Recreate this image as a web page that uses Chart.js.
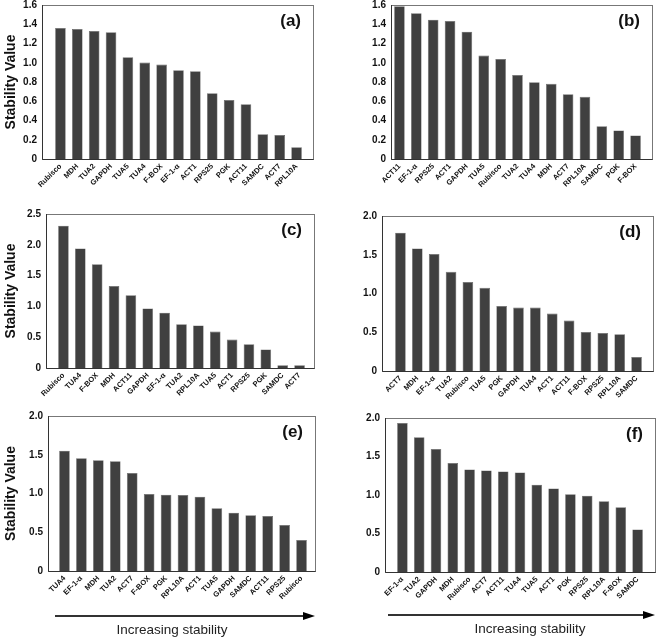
<!DOCTYPE html>
<html>
<head>
<meta charset="utf-8">
<script src="https://cdn.jsdelivr.net/npm/chart.js@4.4.1/dist/chart.umd.min.js"></script>
<style>
  body { margin: 0; background: #fff; }
  #wrap { position: relative; width: 660px; height: 640px; }
  canvas { position: absolute; }
</style>
</head>
<body>
<div id="wrap">
  <canvas id="chartA" width="330" height="200" style="left:0;top:0"></canvas>
  <canvas id="chartB" width="330" height="200" style="left:330px;top:0"></canvas>
  <canvas id="chartC" width="330" height="200" style="left:0;top:200px"></canvas>
  <canvas id="chartD" width="330" height="200" style="left:330px;top:200px"></canvas>
  <canvas id="chartE" width="330" height="240" style="left:0;top:400px"></canvas>
  <canvas id="chartF" width="330" height="240" style="left:330px;top:400px"></canvas>
</div>
<script>
// data
const genesA = ['Rubisco', 'MDH', 'TUA2', 'GAPDH', 'TUA5', 'TUA4', 'F-BOX', 'EF-1-α', 'ACT1', 'RPS25', 'PGK', 'ACT11', 'SAMDC', 'ACT7', 'RPL10A']
const valuesA = [1.36, 1.35, 1.33, 1.317, 1.057, 1.002, 0.981, 0.923, 0.912, 0.684, 0.612, 0.570, 0.256, 0.249, 0.121]

const genesB = ['ACT11', 'EF-1-α', 'RPS25', 'ACT1', 'GAPDH', 'TUA5', 'Rubisco', 'TUA2', 'TUA4', 'MDH', 'ACT7', 'RPL10A', 'SAMDC', 'PGK', 'F-BOX']
const valuesB = [1.586, 1.513, 1.448, 1.434, 1.323, 1.075, 1.040, 0.874, 0.798, 0.781, 0.674, 0.646, 0.339, 0.297, 0.245]

const genesC = ['Rubisco', 'TUA4', 'F-BOX', 'MDH', 'ACT11', 'GAPDH', 'EF-1-α', 'TUA2', 'RPL10A', 'TUA5', 'ACT1', 'RPS25', 'PGK', 'SAMDC', 'ACT7']
const valuesC = [2.31, 1.94, 1.685, 1.33, 1.18, 0.967, 0.897, 0.712, 0.69, 0.592, 0.462, 0.386, 0.30, 0.043, 0.043]

const genesD = ['ACT7', 'MDH', 'EF-1-α', 'TUA2', 'Rubisco', 'TUA5', 'PGK', 'GAPDH', 'TUA4', 'ACT1', 'ACT11', 'F-BOX', 'RPS25', 'RPL10A', 'SAMDC']
const valuesD = [1.784, 1.582, 1.509, 1.28, 1.147, 1.073, 0.84, 0.819, 0.819, 0.741, 0.651, 0.504, 0.491, 0.474, 0.181]

const genesE = ['TUA4', 'EF-1-α', 'MDH', 'TUA2', 'ACT7', 'F-BOX', 'PGK', 'RPL10A', 'ACT1', 'TUA5', 'GAPDH', 'SAMDC', 'ACT11', 'RPS25', 'Rubisco']
const valuesE = [1.553, 1.454, 1.428, 1.415, 1.265, 0.994, 0.985, 0.981, 0.959, 0.809, 0.753, 0.718, 0.71, 0.594, 0.40]

const genesF = ['EF-1-α', 'TUA2', 'GAPDH', 'MDH', 'Rubisco', 'ACT7', 'ACT11', 'TUA4', 'TUA5', 'ACT1', 'PGK', 'RPS25', 'RPL10A', 'F-BOX', 'SAMDC']
const valuesF = [1.935, 1.75, 1.599, 1.414, 1.332, 1.319, 1.306, 1.293, 1.134, 1.086, 1.009, 0.991, 0.918, 0.841, 0.552]

const FONT = "'Liberation Sans', Arial, sans-serif"

// frame & bar area per panel (canvas coords)
const panels = [
  { id: 'chartA', tag: '(a)', genes: genesA, values: valuesA, max: 1.6, step: 0.2, title: true,
    frameL: 42, frameR: 313, areaL: 52, areaR: 305, top: 5, bottom: 159 },
  { id: 'chartB', tag: '(b)', genes: genesB, values: valuesB, max: 1.6, step: 0.2, title: false,
    frameL: 61, frameR: 322, areaL: 61, areaR: 314, top: 5, bottom: 159 },
  { id: 'chartC', tag: '(c)', genes: genesC, values: valuesC, max: 2.5, step: 0.5, title: true,
    frameL: 46, frameR: 314, areaL: 55, areaR: 308, top: 14, bottom: 168 },
  { id: 'chartD', tag: '(d)', genes: genesD, values: valuesD, max: 2.0, step: 0.5, title: false,
    frameL: 52, frameR: 323, areaL: 62, areaR: 315, top: 16, bottom: 171 },
  { id: 'chartE', tag: '(e)', genes: genesE, values: valuesE, max: 2.0, step: 0.5, title: true,
    frameL: 48, frameR: 315, areaL: 56, areaR: 310, top: 16, bottom: 171,
    arrow: { x0: 55, x1: 315, y: 216, textX: 172, textY: 230 } },
  { id: 'chartF', tag: '(f)', genes: genesF, values: valuesF, max: 2.0, step: 0.5, title: false,
    frameL: 55, frameR: 325, areaL: 64, areaR: 316, top: 18, bottom: 172,
    arrow: { x0: 58, x1: 325, y: 215, textX: 200, textY: 229 } }
]

const framePlugin = {
  id: 'frame',
  afterDatasetsDraw(chart, args, opts) {
    const c = chart.ctx
    const a = chart.chartArea
    const p = opts.panel
    c.save()
    c.lineWidth = 1
    c.strokeStyle = '#777'
    c.strokeRect(p.frameL + 0.5, a.top + 0.5, p.frameR - p.frameL, a.bottom - a.top)
    c.strokeStyle = '#333'
    c.beginPath()
    c.moveTo(p.frameL + 0.5, a.top)
    c.lineTo(p.frameL + 0.5, a.bottom + 0.5)
    c.lineTo(p.frameR + 0.5, a.bottom + 0.5)
    c.stroke()

    c.fillStyle = '#111'
    c.font = 'bold 17px ' + FONT
    c.textAlign = 'right'
    c.textBaseline = 'alphabetic'
    c.fillText(p.tag, p.frameR - 12, a.top + 21)

    if (p.arrow) {
      const ar = p.arrow
      c.strokeStyle = '#333'
      c.lineWidth = 2
      c.beginPath()
      c.moveTo(ar.x0, ar.y)
      c.lineTo(ar.x1 - 8, ar.y)
      c.stroke()
      c.fillStyle = '#000'
      c.beginPath()
      c.moveTo(ar.x1, ar.y)
      c.lineTo(ar.x1 - 12, ar.y - 4)
      c.lineTo(ar.x1 - 12, ar.y + 4)
      c.closePath()
      c.fill()
      c.fillStyle = '#222'
      c.font = '13.5px ' + FONT
      c.textAlign = 'center'
      c.textBaseline = 'middle'
      c.fillText('Increasing stability', ar.textX, ar.textY)
    }
    c.restore()
  }
}

panels.forEach(p => {
  const canvas = document.getElementById(p.id)
  new Chart(canvas.getContext('2d'), {
    type: 'bar',
    data: {
      labels: p.genes,
      datasets: [{
        data: p.values,
        backgroundColor: '#404040',
        borderColor: '#6a6a6a',
        borderWidth: 0.6,
        barPercentage: 0.63,
        categoryPercentage: 1
      }]
    },
    options: {
      responsive: false,
      animation: false,
      layout: { padding: { top: p.top, right: canvas.width - p.areaR, left: 0, bottom: 0 } },
      plugins: {
        legend: { display: false },
        tooltip: { enabled: false },
        frame: { panel: p }
      },
      scales: {
        x: {
          grid: { display: false, drawTicks: false },
          border: { display: false },
          ticks: {
            autoSkip: false,
            minRotation: 45,
            maxRotation: 45,
            padding: 3,
            color: '#111',
            font: { family: FONT, size: 7.5, weight: 'bold' }
          },
          afterFit(scale) {
            scale.height = canvas.height - p.bottom
            scale.paddingLeft = 0
            scale.paddingRight = 0
          }
        },
        y: {
          min: 0,
          max: p.max,
          grid: { display: false, drawTicks: false },
          border: { display: false },
          ticks: {
            stepSize: p.step,
            padding: 5 + (p.areaL - p.frameL),
            color: '#111',
            font: { family: FONT, size: 10, weight: 'bold' },
            callback: v => v === 0 ? '0' : v.toFixed(1)
          },
          title: {
            display: p.title,
            text: 'Stability Value',
            color: '#111',
            padding: { top: 3, bottom: 0 },
            font: { family: FONT, size: 14, weight: 'bold' }
          },
          afterFit(scale) {
            scale.width = p.areaL
            scale.paddingTop = 0
            scale.paddingBottom = 0
          }
        }
      }
    },
    plugins: [framePlugin]
  })
})
</script>
</body>
</html>
